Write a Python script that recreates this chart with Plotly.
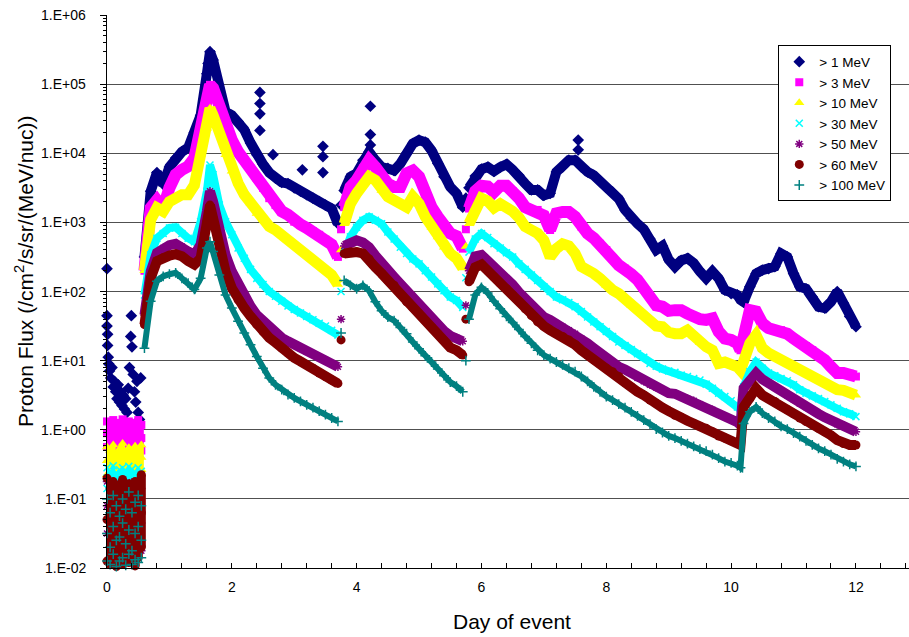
import math
import plotly.graph_objects as go

# ---- axis tick labels ----
y_tick_vals = [1e-2, 1e-1, 1e0, 1e1, 1e2, 1e3, 1e4, 1e5, 1e6]
y_tick_text = ["1.E-02", "1.E-01", "1.E+00", "1.E+01", "1.E+02", "1.E+03", "1.E+04", "1.E+05", "1.E+06"]

series_names = ["> 1 MeV", "> 3 MeV", "> 10 MeV", "> 30 MeV", "> 50 MeV", "> 60 MeV", "> 100 MeV"]

# ---- main event period (day of event) ----
days_main = [0.6, 0.7, 0.8, 0.9, 1.0, 1.1, 1.2, 1.3, 1.4, 1.5, 1.6, 1.65,
             1.7, 1.8, 1.9, 2.0, 2.1, 2.2, 2.3, 2.4, 2.5, 2.6, 2.7, 2.8, 2.9, 3.0, 3.1, 3.2, 3.3, 3.4, 3.5, 3.6, 3.7, 3.75,
             3.8, 3.9, 4.0, 4.1, 4.2, 4.3, 4.4, 4.5, 4.6, 4.7, 4.8, 4.9, 5.0, 5.1, 5.2, 5.3, 5.4, 5.5, 5.6, 5.7, 5.75,
             5.8, 5.9, 6.0, 6.1, 6.2, 6.3, 6.4, 6.5, 6.6, 6.7, 6.8, 6.9, 7.0, 7.1, 7.2, 7.3, 7.4, 7.5, 7.6, 7.7, 7.8, 7.9,
             8.0, 8.1, 8.2, 8.3, 8.4, 8.5, 8.6, 8.7, 8.8, 8.9, 9.0, 9.1, 9.2, 9.3, 9.4, 9.5, 9.6, 9.7, 9.8, 9.9, 10.0, 10.1, 10.15,
             10.2, 10.3, 10.4, 10.5, 10.6, 10.7, 10.8, 10.9, 11.0, 11.1, 11.2, 11.3, 11.4, 11.5, 11.6, 11.7, 11.8, 11.9, 12.0]

# days at which the flux jumps abruptly (isolated readings, not part of a band)
jump_days = [3.75, 5.75]

# log10 of proton flux
log_flux_1 = [2.5, 3.45, 3.72, 3.55, 3.80, 3.93, 4.02, 4.08, 4.30, 4.55, 5.15, 5.47,
              5.35, 4.90, 4.60, 4.55, 4.46, 4.34, 4.15, 3.98, 3.84, 3.72, 3.64, 3.58, 3.56, 3.50, 3.45, 3.40, 3.35, 3.30, 3.25, 3.20, 2.98, 3.25,
              3.46, 3.66, 3.71, 3.90, 4.02, 3.90, 3.80, 3.78, 3.75, 3.85, 4.00, 4.14, 4.19, 4.16, 4.04, 3.85, 3.66, 3.51, 3.42, 3.22, 3.35,
              3.50, 3.67, 3.77, 3.80, 3.74, 3.80, 3.84, 3.76, 3.68, 3.56, 3.47, 3.47, 3.39, 3.42, 3.73, 3.80, 3.90, 3.90, 3.80, 3.73, 3.68, 3.59,
              3.51, 3.44, 3.34, 3.18, 3.06, 2.98, 2.90, 2.76, 2.60, 2.66, 2.46, 2.36, 2.45, 2.48, 2.41, 2.29, 2.19, 2.29, 2.19, 2.02, 1.97, 1.95, 1.88,
              1.85, 2.07, 2.26, 2.31, 2.33, 2.36, 2.55, 2.50, 2.26, 2.07, 2.04, 1.92, 1.78, 1.76, 1.85, 2.00, 1.83, 1.64, 1.49]

log_flux_3 = [2.30, 3.21, 3.32, 3.20, 3.50, 3.69, 3.76, 3.81, 3.93, 4.36, 4.75, 4.99,
              4.94, 4.70, 4.36, 4.19, 4.02, 3.90, 3.78, 3.64, 3.50, 3.35, 3.25, 3.16, 3.11, 3.01, 2.97, 2.92, 2.87, 2.82, 2.75, 2.68, 2.50, 2.90,
              3.22, 3.51, 3.61, 3.78, 3.90, 3.80, 3.66, 3.56, 3.51, 3.51, 3.71, 3.75, 3.66, 3.42, 3.22, 3.08, 2.93, 2.84, 2.80, 2.62, 2.90,
              3.20, 3.45, 3.53, 3.52, 3.44, 3.53, 3.53, 3.45, 3.35, 3.22, 3.18, 3.18, 3.10, 2.89, 3.13, 3.15, 3.15, 3.08, 2.94, 2.84, 2.77, 2.69,
              2.60, 2.48, 2.38, 2.33, 2.25, 2.17, 2.05, 1.92, 1.80, 1.78, 1.72, 1.73, 1.73, 1.68, 1.63, 1.60, 1.59, 1.61, 1.42, 1.32, 1.30, 1.25, 1.15,
              1.39, 1.73, 1.71, 1.54, 1.47, 1.44, 1.44, 1.39, 1.32, 1.26, 1.21, 1.15, 1.08, 1.01, 0.91, 0.82, 0.82, 0.81, 0.77]

log_flux_10 = [2.30, 3.04, 3.21, 3.16, 3.30, 3.37, 3.40, 3.40, 3.54, 3.98, 4.36, 4.65,
               4.55, 4.31, 3.98, 3.74, 3.57, 3.40, 3.28, 3.13, 3.04, 2.94, 2.89, 2.82, 2.75, 2.68, 2.60, 2.53, 2.46, 2.39, 2.32, 2.24, 2.10, 2.60,
               2.98, 3.27, 3.42, 3.56, 3.66, 3.61, 3.46, 3.37, 3.32, 3.27, 3.22, 3.37, 3.27, 3.08, 2.93, 2.79, 2.64, 2.55, 2.48, 2.34, 2.65,
               2.98, 3.22, 3.35, 3.31, 3.21, 3.27, 3.23, 3.16, 3.07, 2.94, 2.89, 2.84, 2.74, 2.50, 2.62, 2.69, 2.66, 2.55, 2.36, 2.33, 2.26, 2.19,
               2.09, 2.02, 1.97, 1.89, 1.80, 1.74, 1.68, 1.58, 1.50, 1.49, 1.41, 1.39, 1.39, 1.44, 1.35, 1.26, 1.20, 1.15, 0.96, 0.98, 0.96, 0.91, 0.86,
               1.01, 1.25, 1.37, 1.18, 1.11, 1.06, 1.01, 0.97, 0.92, 0.87, 0.82, 0.76, 0.72, 0.67, 0.62, 0.58, 0.57, 0.54, 0.50]

log_flux_30 = [1.95, 2.53, 2.77, 2.84, 2.92, 2.93, 2.84, 2.77, 2.72, 3.01, 3.45, 3.83,
               3.69, 3.25, 3.01, 2.82, 2.63, 2.48, 2.32, 2.19, 2.10, 2.00, 1.93, 1.86, 1.79, 1.74, 1.69, 1.64, 1.59, 1.54, 1.50, 1.44, 1.37, 2.00,
               2.55, 2.79, 2.93, 3.03, 3.08, 3.03, 2.98, 2.86, 2.76, 2.64, 2.55, 2.47, 2.40, 2.30, 2.21, 2.11, 2.01, 1.92, 1.87, 1.77, 2.20,
               2.57, 2.76, 2.84, 2.78, 2.69, 2.63, 2.56, 2.50, 2.40, 2.32, 2.24, 2.16, 2.07, 2.00, 1.92, 1.88, 1.84, 1.78, 1.71, 1.63, 1.56, 1.49,
               1.42, 1.35, 1.27, 1.22, 1.16, 1.10, 1.05, 0.96, 0.92, 0.88, 0.85, 0.83, 0.79, 0.77, 0.74, 0.72, 0.66, 0.60, 0.53, 0.48, 0.42, 0.33, 0.29,
               0.62, 0.84, 0.98, 0.89, 0.82, 0.78, 0.74, 0.71, 0.65, 0.58, 0.53, 0.49, 0.45, 0.41, 0.36, 0.31, 0.26, 0.23, 0.19]

log_flux_50 = [1.66, 2.29, 2.56, 2.63, 2.67, 2.69, 2.65, 2.58, 2.53, 2.68, 3.16, 3.45,
               3.30, 2.87, 2.53, 2.29, 2.10, 1.93, 1.79, 1.66, 1.57, 1.47, 1.40, 1.33, 1.28, 1.23, 1.18, 1.13, 1.09, 1.04, 1.01, 0.96, 0.91, 1.60,
               2.66, 2.71, 2.74, 2.71, 2.64, 2.52, 2.40, 2.30, 2.21, 2.11, 2.01, 1.92, 1.82, 1.72, 1.60, 1.53, 1.43, 1.36, 1.33, 1.28, 1.80,
               2.30, 2.51, 2.53, 2.45, 2.36, 2.26, 2.18, 2.10, 1.99, 1.90, 1.80, 1.71, 1.63, 1.59, 1.54, 1.49, 1.44, 1.39, 1.32, 1.25, 1.18, 1.11,
               1.03, 0.98, 0.91, 0.87, 0.82, 0.75, 0.70, 0.65, 0.61, 0.57, 0.53, 0.52, 0.48, 0.45, 0.42, 0.37, 0.32, 0.29, 0.24, 0.19, 0.15, 0.11, 0.07,
               0.60, 0.71, 0.82, 0.73, 0.67, 0.62, 0.57, 0.50, 0.44, 0.38, 0.33, 0.29, 0.23, 0.18, 0.13, 0.08, 0.05, 0.01, -0.03]

log_flux_60 = [1.52, 2.19, 2.44, 2.49, 2.52, 2.54, 2.51, 2.44, 2.39, 2.48, 3.01, 3.25,
               3.06, 2.63, 2.29, 2.05, 1.88, 1.76, 1.64, 1.52, 1.42, 1.33, 1.26, 1.18, 1.11, 1.04, 0.99, 0.94, 0.89, 0.82, 0.77, 0.72, 0.67, 1.30,
               2.55, 2.57, 2.57, 2.55, 2.47, 2.35, 2.26, 2.16, 2.09, 1.97, 1.85, 1.77, 1.68, 1.58, 1.48, 1.39, 1.29, 1.19, 1.15, 1.08, 1.60,
               2.14, 2.35, 2.39, 2.30, 2.21, 2.12, 2.04, 1.95, 1.86, 1.75, 1.65, 1.56, 1.50, 1.44, 1.39, 1.35, 1.30, 1.23, 1.15, 1.08, 1.01, 0.95,
               0.89, 0.84, 0.77, 0.68, 0.62, 0.55, 0.50, 0.43, 0.38, 0.32, 0.27, 0.21, 0.18, 0.13, 0.09, 0.05, 0.02, -0.03, -0.09, -0.12, -0.16, -0.19, -0.22,
               0.33, 0.45, 0.60, 0.50, 0.45, 0.41, 0.34, 0.29, 0.23, 0.17, 0.12, 0.07, 0.02, -0.03, -0.08, -0.15, -0.20, -0.22, -0.22]

log_flux_100 = [1.18, 1.86, 2.15, 2.22, 2.25, 2.27, 2.19, 2.12, 2.03, 2.19, 2.63, 2.72,
                2.58, 2.24, 1.95, 1.76, 1.57, 1.40, 1.23, 1.06, 0.89, 0.75, 0.65, 0.58, 0.51, 0.46, 0.41, 0.36, 0.32, 0.27, 0.22, 0.17, 0.12, 1.40,
                2.16, 2.09, 2.04, 2.09, 2.01, 1.85, 1.72, 1.63, 1.58, 1.48, 1.39, 1.27, 1.17, 1.07, 0.98, 0.88, 0.78, 0.69, 0.63, 0.55, 1.00,
                1.60, 1.95, 2.06, 1.98, 1.86, 1.75, 1.64, 1.55, 1.45, 1.35, 1.25, 1.15, 1.08, 1.03, 0.98, 0.94, 0.89, 0.84, 0.77, 0.70, 0.62, 0.55,
                0.48, 0.43, 0.37, 0.32, 0.26, 0.20, 0.14, 0.08, 0.01, -0.04, -0.09, -0.12, -0.16, -0.20, -0.24, -0.28, -0.31, -0.36, -0.41, -0.46, -0.48, -0.52, -0.55,
                0.09, 0.26, 0.33, 0.24, 0.17, 0.12, 0.05, 0.01, -0.05, -0.10, -0.16, -0.22, -0.27, -0.31, -0.36, -0.42, -0.46, -0.50, -0.53]

# ---- pre-event period (three readings per time) ----
days_pre = [0.0, 0.0, 0.0, 0.05, 0.05, 0.05, 0.1, 0.1, 0.1, 0.15, 0.15, 0.15,
            0.2, 0.2, 0.2, 0.25, 0.25, 0.25, 0.3, 0.3, 0.3, 0.35, 0.35, 0.35,
            0.4, 0.4, 0.4, 0.45, 0.45, 0.45, 0.5, 0.5, 0.5, 0.55, 0.55, 0.55]

log_pre_3 = [0.12, -0.05, -0.25, 0.08, -0.10, -0.30, 0.14, -0.02, -0.22, 0.05, -0.15, -0.35,
             0.10, -0.08, -0.28, 0.15, -0.05, -0.20, 0.06, -0.12, -0.32, 0.12, -0.04, -0.25,
             0.08, -0.10, -0.30, 0.10, -0.06, -0.26, 0.14, -0.03, -0.22, 0.07, -0.12, -0.30]
log_pre_10 = [-0.25, -0.45, -0.65, -0.30, -0.50, -0.70, -0.22, -0.40, -0.60, -0.35, -0.55, -0.72,
              -0.28, -0.48, -0.66, -0.20, -0.42, -0.62, -0.32, -0.52, -0.70, -0.26, -0.46, -0.64,
              -0.30, -0.50, -0.68, -0.24, -0.44, -0.60, -0.28, -0.47, -0.65, -0.22, -0.40, -0.58]
log_pre_30 = [-0.55, -0.70, -0.85, -0.60, -0.75, -0.90, -0.52, -0.68, -0.82, -0.62, -0.78, -0.88,
              -0.58, -0.72, -0.86, -0.55, -0.80, -0.92, -0.60, -0.70, -0.84, -0.53, -0.76, -0.88,
              -0.57, -0.73, -0.90, -0.62, -0.79, -0.85, -0.55, -0.70, -0.83, -0.60, -0.75, -0.89]
log_pre_50 = [-0.75, -1.10, -1.50, -0.85, -1.30, -1.70, -0.80, -1.20, -1.60, -0.90, -1.40, -1.80,
              -0.78, -1.15, -1.55, -0.95, -1.35, -1.75, -0.82, -1.25, -1.65, -0.88, -1.45, -1.85,
              -0.76, -1.05, -1.60, -0.92, -1.30, -1.70, -0.80, -1.20, -1.55, -0.85, -1.35, -1.75]
log_pre_60 = [-0.70, -1.30, -1.90, -0.85, -1.50, -1.95, -0.75, -1.20, -1.70, -0.95, -1.40, -1.98,
              -0.80, -1.35, -1.85, -0.72, -1.55, -1.95, -0.90, -1.25, -1.75, -0.78, -1.45, -1.92,
              -0.85, -1.30, -1.80, -0.75, -1.60, -1.97, -0.95, -1.40, -1.85, -0.65, -1.20, -1.70]
log_pre_100 = [-1.00, -1.50, -1.90, -1.20, -1.70, -1.95, -0.95, -1.40, -1.80, -1.10, -1.60, -1.98,
               -1.25, -1.55, -1.90, -1.00, -1.35, -1.85, -1.15, -1.65, -1.96, -0.90, -1.45, -1.80,
               -1.20, -1.75, -1.95, -1.05, -1.50, -1.88, -0.95, -1.40, -1.92, -1.10, -1.60, -1.85]

days_pre_1 = [0.0, 0.0, 0.0, 0.01, 0.01, 0.02, 0.03, 0.04, 0.06, 0.08, 0.10, 0.12, 0.14, 0.16, 0.18, 0.20, 0.22,
              0.24, 0.26, 0.28, 0.30, 0.32, 0.34, 0.36, 0.38, 0.39, 0.40, 0.42, 0.44, 0.46, 0.48, 0.50, 0.52, 0.54]
log_pre_1 = [2.33, 1.65, 1.50, 1.38, 1.22, 1.05, 0.95, 0.85, 0.75, 0.90, 0.62, 0.70, 0.55, 0.45, 0.65, 0.40, 0.55,
             0.35, 0.50, 0.30, 0.45, 0.25, 0.60, 0.90, 1.35, 1.65, 1.20, 0.80, 0.55, 0.40, 0.70, 0.25, 0.15, 0.75]

# isolated > 1 MeV spikes
days_spike_1 = [1.62, 2.45, 2.45, 2.45, 2.45, 2.66, 3.13, 3.46, 3.46, 3.46, 4.22, 4.22, 4.22, 7.55, 7.55]
log_spike_1 = [5.30, 4.88, 4.72, 4.57, 4.33, 3.98, 3.76, 4.10, 3.95, 3.72, 4.68, 4.27, 4.12, 4.19, 4.05]

main_logs = [log_flux_1, log_flux_3, log_flux_10, log_flux_30, log_flux_50, log_flux_60, log_flux_100]
pre_logs = [log_pre_1, log_pre_3, log_pre_10, log_pre_30, log_pre_50, log_pre_60, log_pre_100]

for arr in main_logs:
    assert len(arr) == len(days_main), len(arr)
for arr in pre_logs[1:]:
    assert len(arr) == len(days_pre), len(arr)
assert len(log_pre_1) == len(days_pre_1)
assert len(log_spike_1) == len(days_spike_1)

colors = ["#000080", "#FF00FF", "#FFFF00", "#00FFFF", "#800080", "#800000", "#008080"]
symbols = ["diamond", "square", "triangle-up", "x-thin", "asterisk", "circle", "cross-thin"]
sizes = [9, 8, 9, 7, 7, 9, 7]
band_widths = [10, 12, 11, 8, 10, 10, 6]
pre_band_widths = [0, 5, 5, 4, 3, 9, 0]

fig = go.Figure()
for i, name in enumerate(series_names):
    # dense band of readings during the event (broken at the abrupt jumps)
    band_y = [None if d in jump_days else 10 ** v for d, v in zip(days_main, main_logs[i])]
    fig.add_trace(go.Scatter(x=days_main, y=band_y, mode="lines", connectgaps=False,
                             line=dict(color=colors[i], width=band_widths[i]),
                             showlegend=False, hoverinfo="skip", legendgroup=name, cliponaxis=False))
    if pre_band_widths[i] > 0:
        # dense cloud of quiet-time readings before the event
        fig.add_trace(go.Scatter(x=days_pre, y=[10 ** v for v in pre_logs[i]], mode="lines",
                                 line=dict(color=colors[i], width=pre_band_widths[i]),
                                 showlegend=False, hoverinfo="skip", legendgroup=name, cliponaxis=False))
    if i == 0:
        xs = days_pre_1 + days_main + days_spike_1
        ls = log_pre_1 + log_flux_1 + log_spike_1
    else:
        xs = days_pre + days_main
        ls = pre_logs[i] + main_logs[i]
    ys = [10 ** v for v in ls]
    marker = dict(symbol=symbols[i], size=sizes[i], color=colors[i])
    if symbols[i] in ("x-thin", "asterisk", "cross-thin"):
        marker["line"] = dict(color=colors[i], width=1.5)
    else:
        marker["line"] = dict(width=0)
    fig.add_trace(go.Scatter(x=xs, y=ys, mode="markers", name=name, marker=marker,
                             cliponaxis=False, legendgroup=name))

font_family = "Arial, 'Liberation Sans', sans-serif"

# y tick labels placed as text next to the axis (log axis -> annotation y in log10 units)
tick_annotations = [
    dict(text=t, xref="paper", yref="y", x=-0.0237, y=math.log10(v), xanchor="right", yanchor="middle",
         showarrow=False, font=dict(size=14, color="black", family=font_family))
    for v, t in zip(y_tick_vals, y_tick_text)
]

fig.update_layout(
    width=909, height=637,
    margin=dict(l=107, r=0, t=15, b=69),
    paper_bgcolor="white", plot_bgcolor="white",
    font=dict(family=font_family, color="black", size=14),
    showlegend=True,
    legend=dict(x=0.837, y=0.945, xanchor="left", yanchor="top",
                bgcolor="white", bordercolor="black", borderwidth=1,
                font=dict(size=13.5, family=font_family, color="black"),
                tracegroupgap=0, itemwidth=30),
    xaxis=dict(range=[0, 12.85], dtick=2, tick0=0, showgrid=False, zeroline=False,
               showline=True, linecolor="black", linewidth=1, automargin=False,
               ticks="inside", ticklen=5, tickcolor="black", ticklabelstandoff=6,
               minor=dict(dtick=0.4, ticks="inside", ticklen=5, tickcolor="black", showgrid=False),
               tickfont=dict(size=14)),
    yaxis=dict(type="log", range=[-2, 6], tickmode="array",
               tickvals=y_tick_vals, ticktext=y_tick_text, showticklabels=False,
               showgrid=True, gridcolor="#505050", gridwidth=1, zeroline=False,
               showline=True, linecolor="black", linewidth=1, automargin=False,
               ticks="outside", ticklen=6, tickcolor="black",
               minor=dict(dtick="D1", ticks="outside", ticklen=3, tickcolor="black", showgrid=False)),
    annotations=tick_annotations + [
        dict(text="Day of event", xref="paper", yref="paper", x=0.505, y=-0.0976,
             xanchor="center", yanchor="middle", showarrow=False, font=dict(size=21)),
        dict(text="Proton Flux (/cm<sup>2</sup>/s/sr/(MeV/nuc))", xref="paper", yref="paper",
             x=-0.1035, y=0.537, xanchor="center", yanchor="middle", textangle=-90,
             showarrow=False, font=dict(size=21)),
    ],
)

fig.write_html("out.html", config={"displayModeBar": False},
               post_script="document.body.style.margin='0';document.body.style.padding='0';"
                           "document.body.style.overflow='hidden';")
